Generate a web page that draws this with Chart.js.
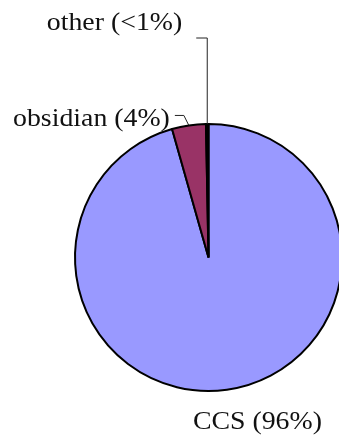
<!DOCTYPE html>
<html>
<head>
<meta charset="utf-8">
<script src="https://cdn.jsdelivr.net/npm/chart.js@4.4.1/dist/chart.umd.min.js"></script>
<style>
  html, body { margin: 0; padding: 0; background: #fff; overflow: hidden; }
  #wrap { width: 339px; height: 445px; overflow: hidden; }
</style>
</head>
<body>
<div id="wrap"><canvas id="pie" width="346" height="445"></canvas></div>
<script>
const categories = ['CCS', 'obsidian', 'other'];
const shares = [95.6, 4.1, 0.3];
const labelTexts = ['CCS (96%)', 'obsidian (4%)', 'other (<1%)'];
const colors = ['#9999FF', '#993366', '#000000'];

// where each label sits relative to the point on the rim at the slice's middle
const labelPlacement = {
  'CCS': { leader: null, dx: -34, dy: 39, align: 'left' },
  'obsidian': { leader: [[-5, -10], [-14, -10]], dx: -19, dy: 1, align: 'right' },
  'other': { leader: [[0, -86], [-11, -86]], dx: -25, dy: -94, align: 'right' }
};

// the original face is a wide Garamond, so stretch the serif a little
const textStretch = 1.07;

const pieLabels = {
  id: 'pieLabels',
  afterDatasetsDraw(chart) {
    const ctx = chart.ctx;
    const meta = chart.getDatasetMeta(0);
    ctx.save();
    ctx.font = '26px "Liberation Serif", "Times New Roman", serif';
    ctx.fillStyle = '#111';
    ctx.strokeStyle = '#222';
    ctx.lineWidth = 1;
    ctx.textBaseline = 'alphabetic';
    meta.data.forEach((arc, i) => {
      const p = arc.getProps(['x', 'y', 'startAngle', 'endAngle', 'outerRadius'], true);
      const mid = (p.startAngle + p.endAngle) / 2;
      const ex = p.x + Math.cos(mid) * p.outerRadius;
      const ey = p.y + Math.sin(mid) * p.outerRadius;
      const pl = labelPlacement[categories[i]];
      if (pl.leader) {
        ctx.beginPath();
        ctx.moveTo(ex, ey);
        pl.leader.forEach(([lx, ly]) => ctx.lineTo(ex + lx, ey + ly));
        ctx.stroke();
      }
      ctx.save();
      ctx.translate(ex + pl.dx, ey + pl.dy);
      ctx.scale(textStretch, 1);
      ctx.textAlign = pl.align;
      ctx.fillText(labelTexts[i], 0, 0);
      ctx.restore();
    });
    ctx.restore();
  }
};

new Chart(document.getElementById('pie'), {
  type: 'pie',
  data: {
    labels: categories,
    datasets: [{
      data: shares,
      backgroundColor: colors,
      borderColor: '#000',
      borderWidth: 2
    }]
  },
  options: {
    responsive: false,
    animation: false,
    devicePixelRatio: 1,
    layout: { padding: { left: 74, right: 3, top: 123, bottom: 53 } },
    plugins: {
      legend: { display: false },
      tooltip: { enabled: false }
    }
  },
  plugins: [pieLabels]
});
</script>
</body>
</html>
